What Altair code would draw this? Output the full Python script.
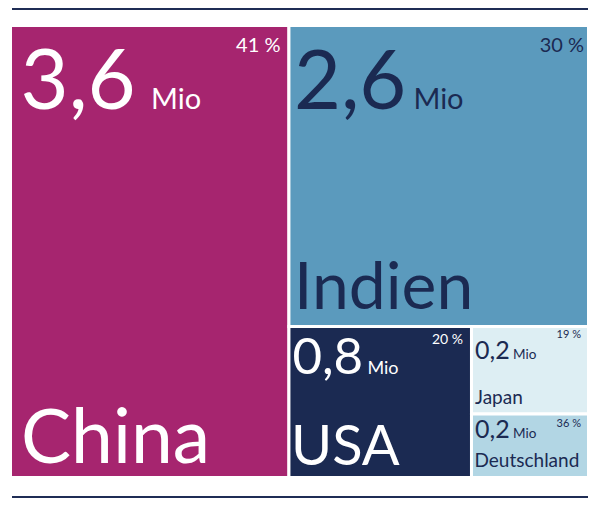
import altair as alt
import pandas as pd

# ---- data ----
countries = ["China", "Indien", "USA", "Japan", "Deutschland"]
mio_values = [3.6, 2.6, 0.8, 0.2, 0.2]          # labels (Mio)
area_values = [3.56, 2.55, 0.78, 0.29, 0.21]     # tile sizes as drawn
shares = [41, 30, 20, 19, 36]                    # percent labels

# ---- styles ----
FILL = {"China": "#A6256F", "Indien": "#5B9ABD", "USA": "#1B2A52",
        "Japan": "#DDEEF3", "Deutschland": "#B2D6E4"}
NAVY = "#1B2A52"
TXT = {"China": "white", "Indien": NAVY, "USA": "white",
       "Japan": NAVY, "Deutschland": NAVY}
# per tile: num(dx, baseline, size), mio(dx, size), pct(dx from right, baseline, size), name(dx, baseline from bottom, size)
STYLE = {
    "China":       dict(num=(8.5, 82, 83), mio=(139, 29), pct=(7, 25, 20), name=(9, 13, 75)),
    "Indien":      dict(num=(3.5, 82, 81), mio=(123, 29), pct=(3, 25, 20), name=(3.5, 16, 66)),
    "USA":         dict(num=(2, 46, 51), mio=(77, 18), pct=(7, 16, 14), name=(0.5, 11, 56)),
    "Japan":       dict(num=(2, 31, 25), mio=(40, 13.5), pct=(6, 10, 11), name=(2, 9, 19)),
    "Deutschland": dict(num=(2, 22, 25), mio=(40, 13.5), pct=(6, 11, 11), name=(1.5, 9, 19)),
}
FONT = "Lato"
W, H = 584, 492
GAP = 3
BOX = (2.5, 17.5, 578.0, 452.0)


def worst(row, w):
    s = sum(row)
    return max(max(w * w * r / (s * s), s * s / (w * w * r)) for r in row)


def squarify(vals, x, y, dx, dy):
    total = sum(vals)
    areas = [v * dx * dy / total for v in vals]
    rects = []
    rem = areas[:]
    while rem:
        w = min(dx, dy)
        row = [rem[0]]
        i = 1
        while i < len(rem) and worst(row + [rem[i]], w) <= worst(row, w):
            row.append(rem[i])
            i += 1
        s = sum(row)
        if dx >= dy:
            cw = s / dy
            yy = y
            for a in row:
                h = a / cw
                rects.append((x, yy, x + cw, yy + h))
                yy += h
            x += cw
            dx -= cw
        else:
            rh = s / dx
            xx = x
            for a in row:
                ww = a / rh
                rects.append((xx, y, xx + ww, y + rh))
                xx += ww
            y += rh
            dy -= rh
        rem = rem[i:]
    return rects


rects = squarify(area_values, *BOX)

rect_rows, left_rows, right_rows = [], [], []
for name, v, p, (x0, y0, x1, y1) in zip(countries, mio_values, shares, rects):
    rect_rows.append(dict(name=name, x=x0, x2=x1, y=y0, y2=y1, fill=FILL[name]))
    vx0, vy0, vx1, vy1 = x0 + GAP / 2, y0 + GAP / 2, x1 - GAP / 2, y1 - GAP / 2
    st = STYLE[name]
    c = TXT[name]
    ndx, nb, ns = st["num"]
    left_rows.append(dict(x=vx0 + ndx, y=vy0 + nb, t=f"{v:.1f}".replace(".", ","), fs=ns, col=c))
    mdx, ms = st["mio"]
    left_rows.append(dict(x=vx0 + mdx, y=vy0 + nb, t="Mio", fs=ms, col=c))
    adx, ab, asz = st["name"]
    left_rows.append(dict(x=vx0 + adx, y=vy1 - ab, t=name, fs=asz, col=c))
    pdx, pb, ps = st["pct"]
    right_rows.append(dict(x=vx1 - pdx, y=vy0 + pb, t=f"{p} %", fs=ps, col=c))

xs = alt.Scale(domain=[0, W], range=[0, W])
ys = alt.Scale(domain=[0, H], range=[0, H])

tiles = alt.Chart(pd.DataFrame(rect_rows)).mark_rect(stroke="white", strokeWidth=GAP).encode(
    x=alt.X("x:Q", scale=xs, axis=None),
    x2="x2:Q",
    y=alt.Y("y:Q", scale=ys, axis=None),
    y2="y2:Q",
    color=alt.Color("fill:N", scale=None),
)

left_text = alt.Chart(pd.DataFrame(left_rows)).mark_text(
    align="left", baseline="alphabetic", font=FONT
).encode(
    x=alt.X("x:Q", scale=xs, axis=None),
    y=alt.Y("y:Q", scale=ys, axis=None),
    text="t:N",
    size=alt.Size("fs:Q", scale=None),
    color=alt.Color("col:N", scale=None),
)

right_text = alt.Chart(pd.DataFrame(right_rows)).mark_text(
    align="right", baseline="alphabetic", font=FONT
).encode(
    x=alt.X("x:Q", scale=xs, axis=None),
    y=alt.Y("y:Q", scale=ys, axis=None),
    text="t:N",
    size=alt.Size("fs:Q", scale=None),
    color=alt.Color("col:N", scale=None),
)

top_rule = alt.Chart(pd.DataFrame({"k": [0]})).mark_rule(color="#1F2D55", strokeWidth=2).encode(
    x=alt.value(4), x2=alt.value(580), y=alt.value(1)
)
bottom_rule = alt.Chart(pd.DataFrame({"k": [0]})).mark_rule(color="#1F2D55", strokeWidth=2).encode(
    x=alt.value(4), x2=alt.value(580), y=alt.value(489)
)

chart = alt.layer(tiles, left_text, right_text, top_rule, bottom_rule).properties(
    width=W, height=H, autosize=alt.AutoSizeParams(type="none"), padding=0,
    background="white",
).configure_view(stroke=None)

chart.save("out.html", embed_options={"renderer": "svg", "actions": False})
